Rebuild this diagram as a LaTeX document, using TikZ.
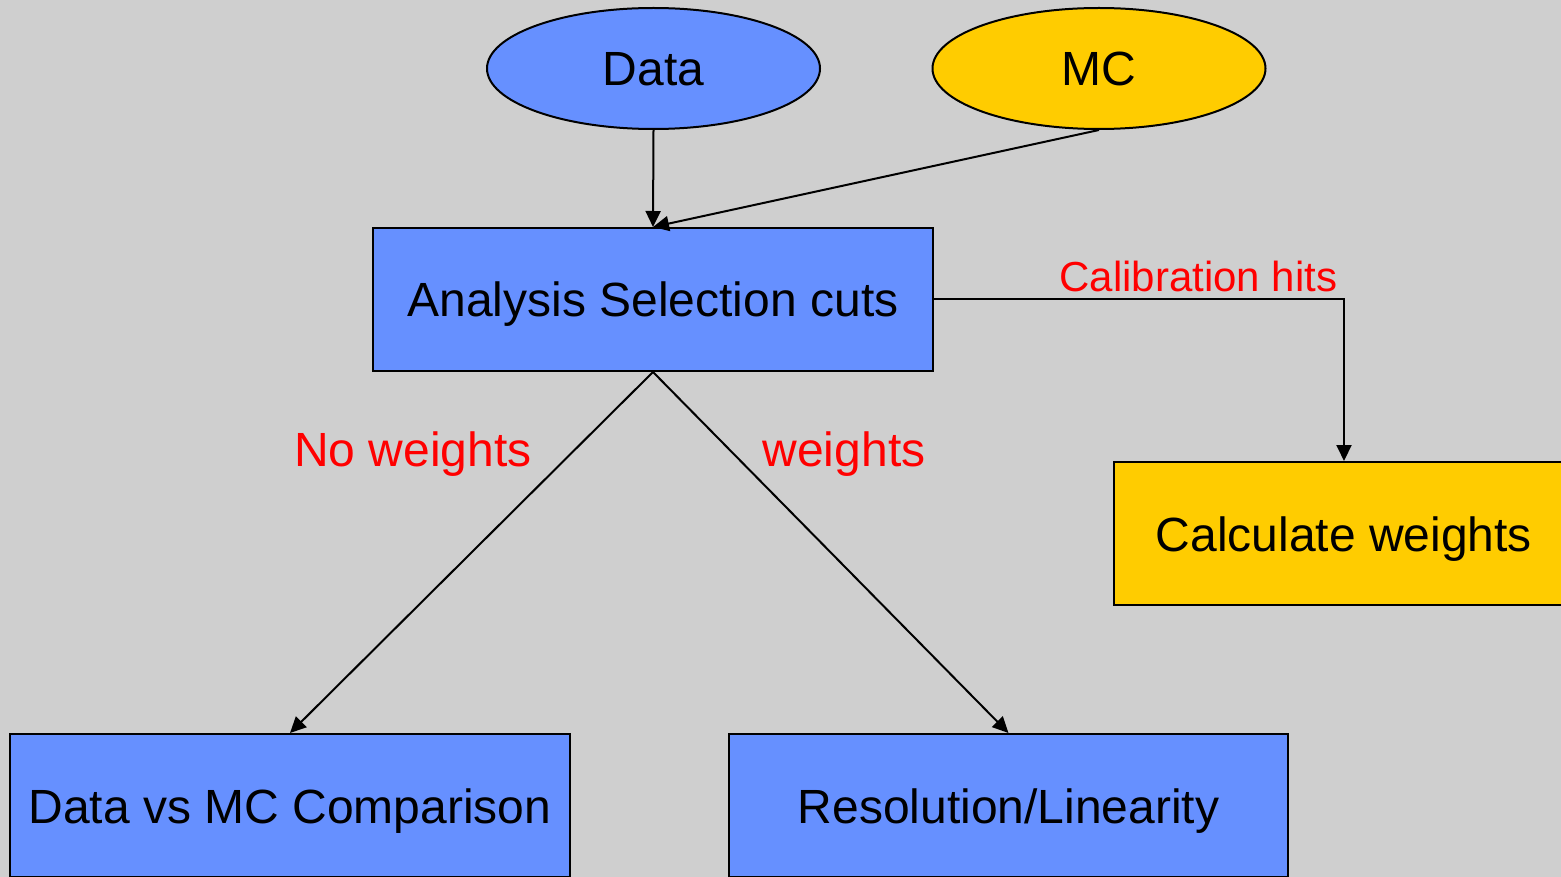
\documentclass[tikz,border=0pt]{standalone}
\usepackage{fontspec}
\setmainfont{Liberation Sans}
\usetikzlibrary{shapes.geometric,arrows.meta}
\definecolor{bg}{HTML}{CFCFCF}
\definecolor{boxblue}{HTML}{6690FF}
\definecolor{boxyellow}{HTML}{FFCC00}
\definecolor{labred}{HTML}{FF0000}
\tikzset{
  bigtext/.style={font=\fontsize{48}{56}\selectfont,text height=45pt,text depth=10pt},
  oval/.style={ellipse,draw=black,line width=2pt,inner sep=0pt,minimum width=333pt,minimum height=121pt,bigtext},
  stepbox/.style={rectangle,draw=black,line width=2pt,inner sep=0pt,minimum height=143pt,bigtext},
  conn/.style={draw=black,line width=2pt,-{Triangle[length=16pt,width=15pt]}},
  lab/.style={text=labred,inner sep=0pt},
}
\begin{document}
\begin{tikzpicture}[x=1pt,y=-1pt]
\useasboundingbox (0,0) rectangle (1561,877);
\clip (0,0) rectangle (1561,877);
\fill[bg] (0,0) rectangle (1561,877);
\node[oval,fill=boxblue] (data) at (653.5,68.5) {Data};
\node[oval,fill=boxyellow] (mc) at (1099,68.5) {MC};
\node[stepbox,fill=boxblue,minimum width=560pt] (ana) at (653,299.5) {Analysis Selection cuts};
\node[stepbox,fill=boxyellow,minimum width=460pt] (calc) at (1344,533.5) {Calculate weights};
\node[stepbox,fill=boxblue,minimum width=560pt] (dmc) at (290,805.5) {Data vs MC Comparison};
\node[stepbox,fill=boxblue,minimum width=559pt] (res) at (1008.5,805.5) {Resolution/Linearity};
\draw[conn] (data.south) -- (ana.north);
\draw[conn] (mc.south) -- (ana.north);
\draw[conn] (ana.south) -- (dmc.north);
\draw[conn] (ana.south) -- (res.north);
\draw[conn] (ana.east) -- (calc.north |- ana.east) -- (calc.north);
\node[lab,bigtext] (nw) at (413,449) {No weights};
\node[lab,bigtext] (w) at (844,449) {weights};
\node[lab,font=\fontsize{42}{50}\selectfont,text height=39pt,text depth=9pt] (ch) at (1198.5,277) {Calibration hits};
\end{tikzpicture}
\end{document}
